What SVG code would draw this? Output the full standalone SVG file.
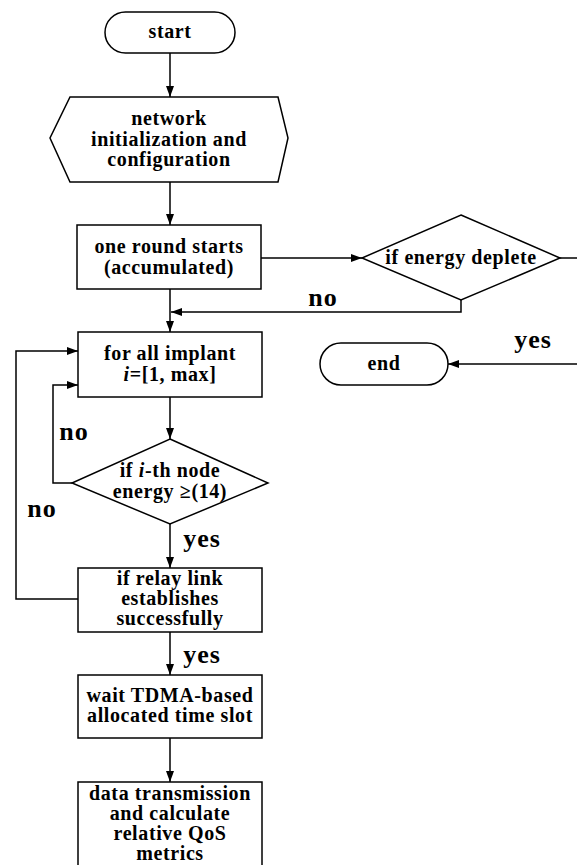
<svg xmlns="http://www.w3.org/2000/svg" width="577" height="865" viewBox="0 0 577 865">
<style>
.s{fill:#fff;stroke:#000;stroke-width:1.5}
.t{font-family:"Liberation Serif","Times New Roman",serif;font-weight:bold;font-size:20px;letter-spacing:0.6px;text-anchor:middle;fill:#000}
.l{font-family:"Liberation Serif","Times New Roman",serif;font-weight:bold;font-size:26px;letter-spacing:1px;text-anchor:middle;fill:#000}
.c{fill:none;stroke:#000;stroke-width:1.5}
</style>
<defs>
<marker id="a" markerWidth="12" markerHeight="10" refX="11" refY="5" orient="auto" markerUnits="userSpaceOnUse">
<path d="M0,1 L11,5 L0,9 Z" fill="#000"/>
</marker>
</defs>
<rect width="577" height="865" fill="#fff"/>
<g id="connectors">
<line class="c" x1="170" y1="53" x2="170" y2="97" marker-end="url(#a)"/>
<line class="c" x1="170" y1="182" x2="170" y2="225" marker-end="url(#a)"/>
<line class="c" x1="261" y1="258" x2="362" y2="258" marker-end="url(#a)"/>
<line class="c" x1="560" y1="258" x2="577" y2="258"/>
<polyline class="c" points="461,300 461,312 171,312" marker-end="url(#a)"/>
<line class="c" x1="170" y1="289" x2="170" y2="332" marker-end="url(#a)"/>
<line class="c" x1="577" y1="364" x2="448" y2="364" marker-end="url(#a)"/>
<line class="c" x1="170" y1="397" x2="170" y2="439" marker-end="url(#a)"/>
<polyline class="c" points="72,483 53,483 53,385 78,385" marker-end="url(#a)"/>
<line class="c" x1="170" y1="524" x2="170" y2="568" marker-end="url(#a)"/>
<polyline class="c" points="78,599 16,599 16,351 78,351" marker-end="url(#a)"/>
<line class="c" x1="170" y1="632" x2="170" y2="675" marker-end="url(#a)"/>
<line class="c" x1="170" y1="738" x2="170" y2="782" marker-end="url(#a)"/>
<text class="l" x="323" y="306">no</text>
<text class="l" x="533" y="348">yes</text>
<text class="l" x="74" y="440">no</text>
<text class="l" x="42" y="517">no</text>
<text class="l" x="202" y="547">yes</text>
<text class="l" x="202" y="663">yes</text>
</g>
<g id="start">
<rect class="s" x="105" y="12" width="130" height="41" rx="20.5"/>
<text class="t" x="170" y="38">start</text>
</g>
<g id="init">
<polygon class="s" points="70,97 278,97 288,138 278,182 70,182 50,138"/>
<text class="t" x="169" y="125">network</text>
<text class="t" x="169" y="146">initialization and</text>
<text class="t" x="169" y="166">configuration</text>
</g>
<g id="round">
<rect class="s" x="77" y="225" width="184" height="64"/>
<text class="t" x="169" y="253">one round starts</text>
<text class="t" x="169" y="274">(accumulated)</text>
</g>
<g id="deplete">
<polygon class="s" points="461,215 560,258 461,300 362,258"/>
<text class="t" x="461" y="264">if energy deplete</text>
</g>
<g id="end">
<rect class="s" x="320" y="343" width="128" height="42" rx="21"/>
<text class="t" x="384" y="370">end</text>
</g>
<g id="forall">
<rect class="s" x="78" y="332" width="184" height="65"/>
<text class="t" x="170" y="360">for all implant</text>
<text class="t" x="170" y="381"><tspan font-style="italic">i</tspan>=[1, max]</text>
</g>
<g id="energy">
<polygon class="s" points="170,439 268,483 170,524 72,483"/>
<text class="t" x="170" y="477">if <tspan font-style="italic">i</tspan>-th node</text>
<text class="t" x="170" y="498">energy ≥(14)</text>
</g>
<g id="relay">
<rect class="s" x="78" y="568" width="184" height="64"/>
<text class="t" x="170" y="585">if relay link</text>
<text class="t" x="170" y="605">establishes</text>
<text class="t" x="170" y="625">successfully</text>
</g>
<g id="wait">
<rect class="s" x="78" y="675" width="184" height="63"/>
<text class="t" x="170" y="702">wait TDMA-based</text>
<text class="t" x="170" y="722">allocated time slot</text>
</g>
<g id="data">
<rect class="s" x="78" y="782" width="184" height="100"/>
<text class="t" x="170" y="800">data transmission</text>
<text class="t" x="170" y="820">and calculate</text>
<text class="t" x="170" y="840">relative QoS</text>
<text class="t" x="170" y="860">metrics</text>
</g>
</svg>
